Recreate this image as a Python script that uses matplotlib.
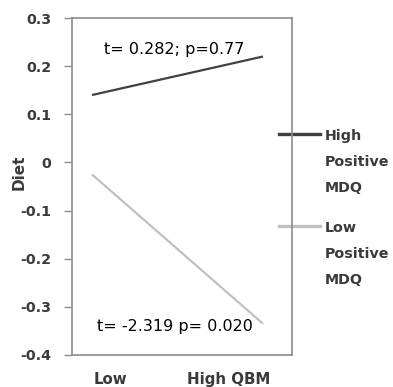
import matplotlib.pyplot as plt
from matplotlib.lines import Line2D

# data
x_levels = [0, 1]
x_labels = ["Low", "High QBM"]
high_mdq = [0.14, 0.22]
low_mdq = [-0.025, -0.335]
y_ticks = [0.3, 0.2, 0.1, 0, -0.1, -0.2, -0.3, -0.4]
series_names = ["High\nPositive\nMDQ", "Low\nPositive\nMDQ"]
notes = ["t= 0.282; p=0.77", "t= -2.319 p= 0.020"]

dark = "#404040"
light = "#c0c0c0"
spine = "#8c8c8c"
txt = "#3a3a3a"

plt.rcParams["font.family"] = ["DejaVu Sans"]
plt.rcParams["font.size"] = 10.3

fig = plt.figure(figsize=(3.93, 3.87), dpi=100)
ax = fig.add_axes([72 / 393, 1 - 355 / 387, 220 / 393, 337 / 387])

ax.plot(x_levels, high_mdq, color=dark, lw=1.6, solid_capstyle="butt")
ax.plot(x_levels, low_mdq, color=light, lw=1.6, solid_capstyle="butt")

ax.set_xlim(-0.117, 1.17)
ax.set_ylim(-0.4, 0.3)
ax.set_yticks(y_ticks)
ax.set_yticklabels(["0.3", "0.2", "0.1", "0", "-0.1", "-0.2", "-0.3", "-0.4"],
                   color=txt, fontweight="bold")
ax.set_xticks([0.11, 0.80])
ax.set_xticklabels(x_labels, color=txt, fontweight="bold", fontsize=10.8)
ax.tick_params(axis="x", length=0, pad=12)
ax.tick_params(axis="y", length=6, width=1, color=spine, pad=9)
for s in ax.spines.values():
    s.set_color(spine)
    s.set_linewidth(1.2)

ax.set_ylabel("Diet", color=txt, fontweight="bold", fontsize=11)
ax.yaxis.set_label_coords(-0.205, 0.542)

ax.text(0.07, 0.234, notes[0], color="black", va="center", ha="left", fontsize=11.5)
ax.text(0.03, -0.34, notes[1], color="black", va="center", ha="left", fontsize=11.5)

# legend drawn across the right spine
for yl, col, name in [(134, dark, series_names[0]), (226, light, series_names[1])]:
    ya = (355 - yl) / 337
    ax.add_line(Line2D([0.94, 1.127], [ya, ya], color=col, lw=2.4,
                       transform=ax.transAxes, clip_on=False))
    ax.text(1.15, ya + 0.016, name, transform=ax.transAxes, va="top", ha="left",
            color=txt, fontweight="bold", linespacing=2.1)

fig.savefig("out.png", dpi=100)
